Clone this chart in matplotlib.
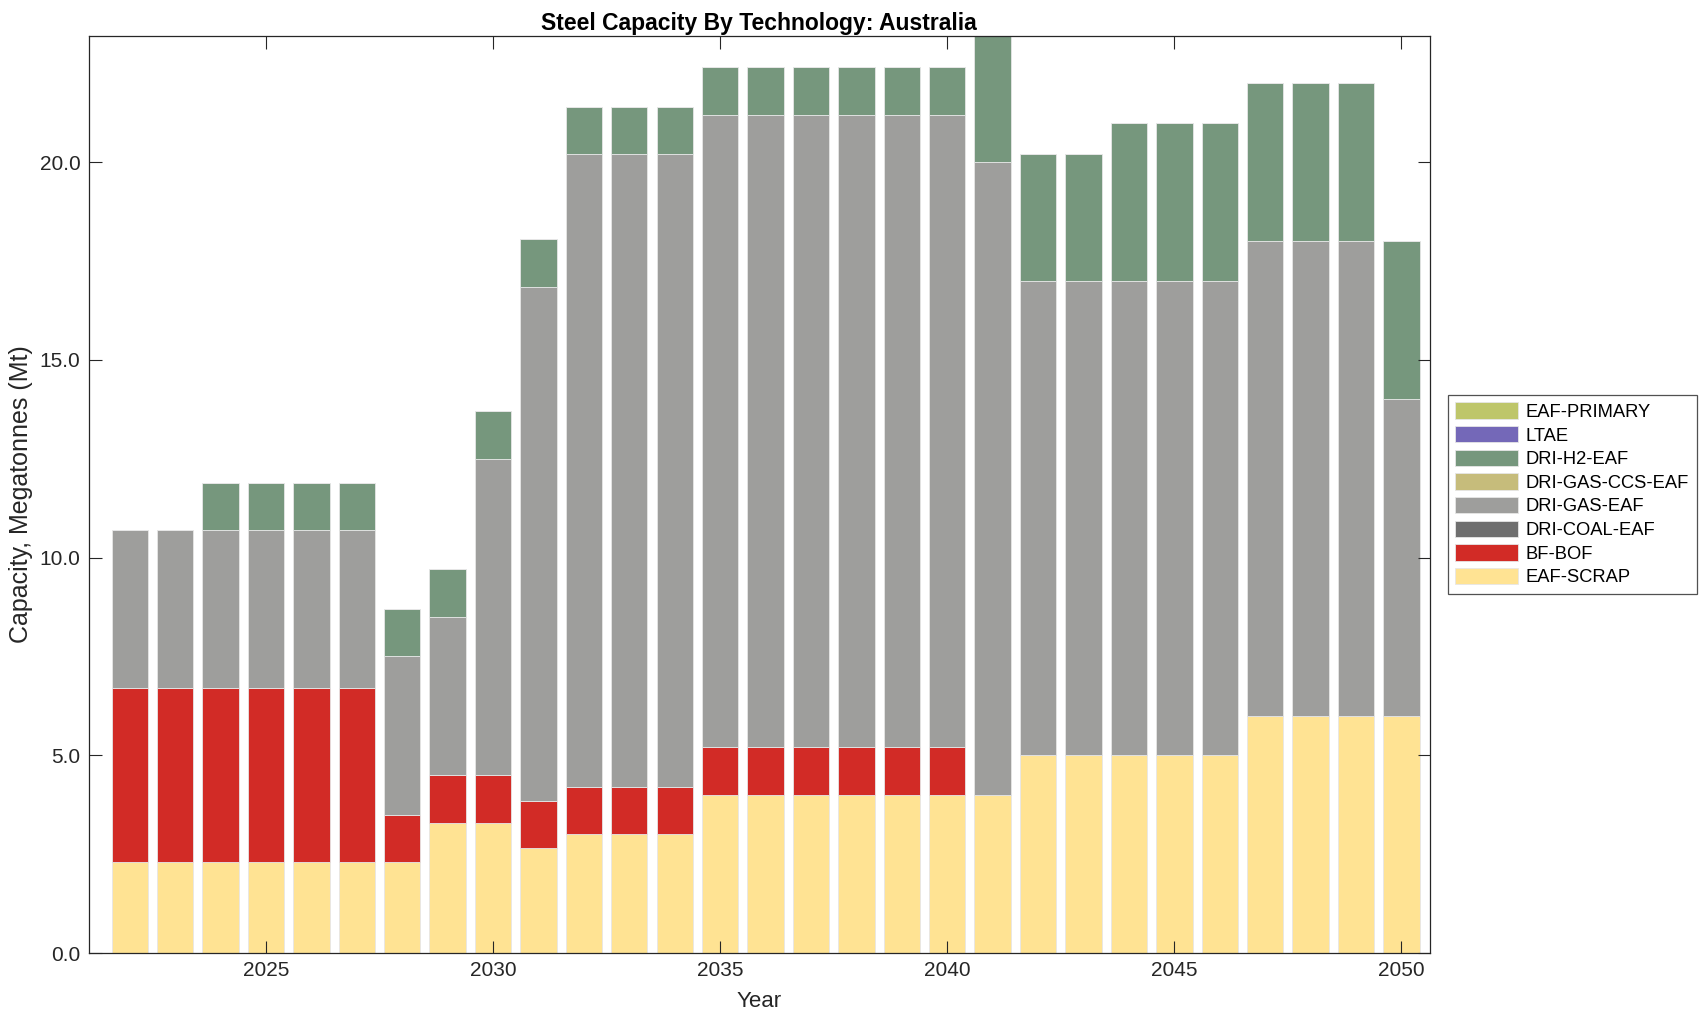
import numpy as np
import matplotlib
matplotlib.use("Agg")
import matplotlib.pyplot as plt

plt.rcParams['font.family'] = ['Liberation Sans', 'DejaVu Sans']

years = list(range(2022, 2051))

# capacity by technology (Mt), bottom of the stack first
eaf_scrap = [2.3] * 7 + [3.3, 3.3, 2.65, 3.0, 3.0, 3.0] + [4.0] * 7 + [5.0] * 5 + [6.0] * 4
bf_bof = [4.4] * 6 + [1.2] * 13 + [0.0] * 10
dri_coal_eaf = [0.0] * 29
dri_gas_eaf = [4.0] * 8 + [8.0, 13.0] + [16.0] * 10 + [12.0] * 8 + [8.0]
dri_gas_ccs_eaf = [0.0] * 29
dri_h2_eaf = [0.0, 0.0] + [1.2] * 17 + [3.2, 3.2, 3.2] + [4.0] * 7
ltae = [0.0] * 29
eaf_primary = [0.0] * 29

series = [
    ("EAF-SCRAP", eaf_scrap, "#ffe393"),
    ("BF-BOF", bf_bof, "#d22b26"),
    ("DRI-COAL-EAF", dri_coal_eaf, "#6f6f6f"),
    ("DRI-GAS-EAF", dri_gas_eaf, "#9e9e9c"),
    ("DRI-GAS-CCS-EAF", dri_gas_ccs_eaf, "#c6bc7b"),
    ("DRI-H2-EAF", dri_h2_eaf, "#76977d"),
    ("LTAE", ltae, "#7468b8"),
    ("EAF-PRIMARY", eaf_primary, "#bec66a"),
]

fig = plt.figure(figsize=(17.08, 10.21), dpi=100)
ax = fig.add_axes([0.052, 0.0666, 0.785, 0.8984])

bottom = np.zeros(len(years))
handles = []
for name, vals, color in series:
    vals = np.array(vals)
    h = ax.bar(years, vals, width=0.8, bottom=bottom, color=color,
               edgecolor="#e6e6e6", linewidth=0.6, label=name)
    handles.append(h)
    bottom += vals

ax.set_xlim(2021.1, 2050.62)
ax.set_ylim(0, bottom.max())
ax.set_xticks([2025, 2030, 2035, 2040, 2045, 2050])
ax.set_yticks([0, 5, 10, 15, 20])
ax.set_yticklabels([f"{v:.1f}" for v in [0, 5, 10, 15, 20]])
ax.tick_params(direction="in", length=9, width=0.8, top=True, right=True,
               labelsize=15, colors="#262626", labelcolor="#262626", pad=6)
for s in ax.spines.values():
    s.set_linewidth(0.9)
    s.set_color("#262626")

ax.set_xlabel("Year", fontsize=16, color="#262626", labelpad=8)
ax.set_ylabel("Capacity, Megatonnes (Mt)", fontsize=18, color="#262626",
              labelpad=5)
ax.set_title("Steel Capacity By Technology: Australia", fontsize=16.5,
             fontweight="bold", pad=4)

leg = ax.legend(handles[::-1], [s[0] for s in series][::-1], loc="center left",
                bbox_to_anchor=(1.0135, 0.5), fontsize=13.2, frameon=True,
                fancybox=False, edgecolor="#262626", handlelength=3.4,
                handleheight=1.0, handletextpad=0.45, labelspacing=0.28,
                borderpad=0.42, borderaxespad=0)
leg.get_frame().set_linewidth(0.9)

fig.savefig("out.png", dpi=100)
